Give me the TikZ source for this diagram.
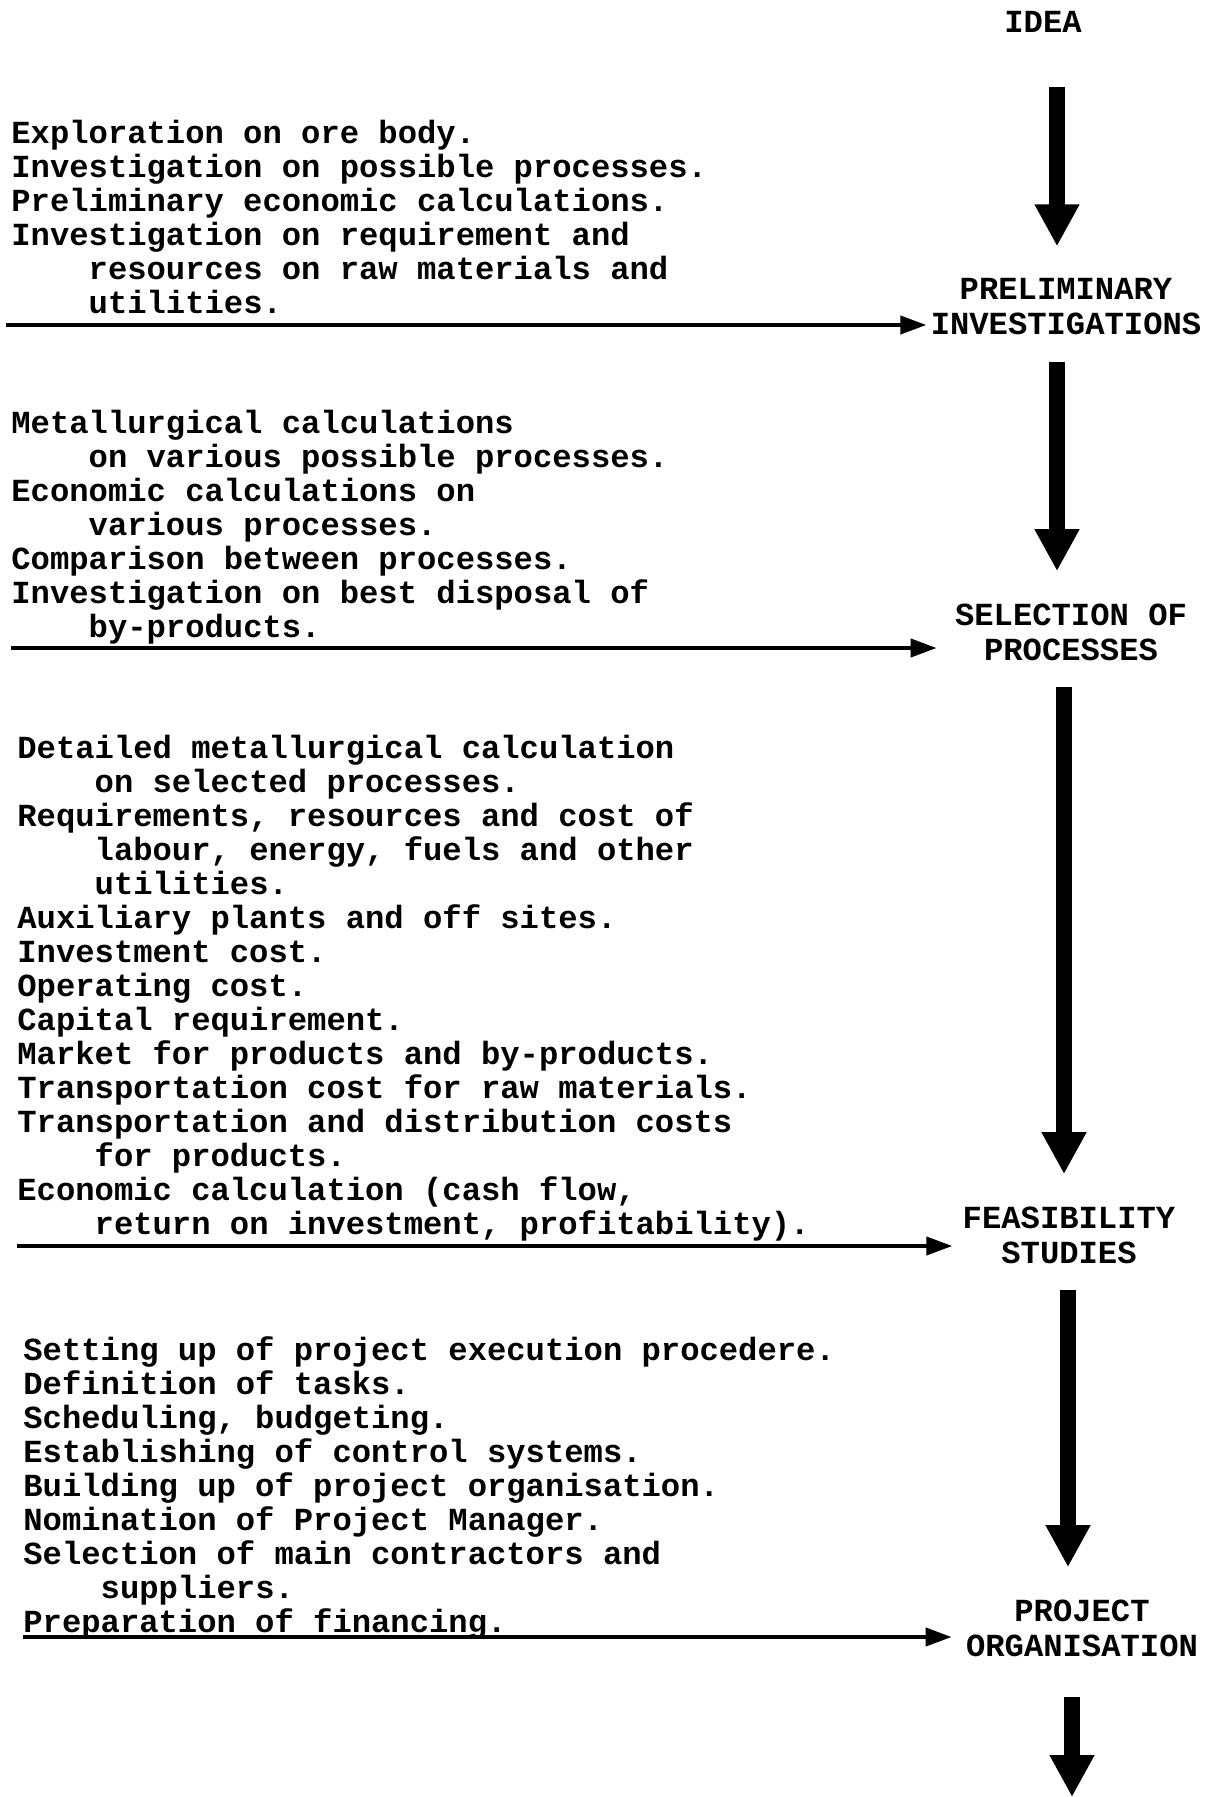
\documentclass[tikz,border=0pt]{standalone}
\usepackage{fontspec}
\usepackage{tikz}
\usetikzlibrary{arrows.meta,positioning}
\newfontfamily\typewriter{Liberation Mono}
\newcommand{\ind}{\phantom{xxxx}}

\begin{document}
\begin{tikzpicture}[x=0.5pt, y=-0.5pt,
  notes/.style={anchor=north west, align=left, inner sep=0pt,
    font=\typewriter\bfseries\fontsize{16.1}{17}\selectfont},
  stage/.style={align=center, inner sep=0pt,
    font=\typewriter\bfseries\fontsize{16.1}{17.5}\selectfont},
  flow/.style={line width=8pt, -{Triangle[width=21pt,length=21pt]},
    shorten <=13pt, shorten >=16pt},
  feed/.style={line width=2pt, -{Triangle[width=9pt,length=13pt]}}]

\useasboundingbox (0,0) rectangle (1215,1797);

% Stages down the right side
\node[stage] (idea) at (1043,22) {IDEA};
\node[stage] (prelim) at (1066,307) {PRELIMINARY\\INVESTIGATIONS};
\node[stage] (select) at (1071,632) {SELECTION OF\\PROCESSES};
\node[stage] (feas) at (1069,1235) {FEASIBILITY\\STUDIES};
\node[stage] (projorg) at (1082,1628) {PROJECT\\ORGANISATION};

% Axes of the vertical arrows
\coordinate (axis1) at (1057,0);
\coordinate (axis2) at (1057,0);
\coordinate (axis3) at (1064,0);
\coordinate (axis4) at (1068,0);
\coordinate (next) at (1072,1797);

% Vertical arrows between stages
\draw[flow, shorten <=27pt] (idea.south -| axis1) -- (prelim.north -| axis1);
\draw[flow] (prelim.south -| axis2) -- (select.north -| axis2);
\draw[flow] (select.south -| axis3) -- (feas.north -| axis3);
\draw[flow] (feas.south -| axis4) -- (projorg.north -| axis4);
\draw[flow, shorten <=20pt, shorten >=0pt] (projorg.south -| next) -- (next);

% Work done in each stage
\node[notes] (work1) at (11,120) {Exploration on ore body.\\
Investigation on possible processes.\\
Preliminary economic calculations.\\
Investigation on requirement and\\
\ind resources on raw materials and\\
\ind utilities.};

\node[notes] (work2) at (11,410) {Metallurgical calculations\\
\ind on various possible processes.\\
Economic calculations on\\
\ind various processes.\\
Comparison between processes.\\
Investigation on best disposal of\\
\ind by-products.};

\node[notes] (work3) at (17,735) {Detailed metallurgical calculation\\
\ind on selected processes.\\
Requirements, resources and cost of\\
\ind labour, energy, fuels and other\\
\ind utilities.\\
Auxiliary plants and off sites.\\
Investment cost.\\
Operating cost.\\
Capital requirement.\\
Market for products and by-products.\\
Transportation cost for raw materials.\\
Transportation and distribution costs\\
\ind for products.\\
Economic calculation (cash flow,\\
\ind return on investment, profitability).};

\node[notes] (work4) at (23,1336) {Setting up of project execution procedere.\\
Definition of tasks.\\
Scheduling, budgeting.\\
Establishing of control systems.\\
Building up of project organisation.\\
Nomination of Project Manager.\\
Selection of main contractors and\\
\ind suppliers.\\
Preparation of financing.};

% Lines feeding each stage
\coordinate (feed1) at (6,325);
\coordinate (feed2) at (11,648);
\coordinate (feed3) at (17,1246);
\coordinate (feed4) at (23,1637);
\draw[feed, shorten >=2pt] (feed1) -- (feed1 -| prelim.west);
\draw[feed, shorten >=9pt] (feed2) -- (feed2 -| select.west);
\draw[feed, shorten >=5pt] (feed3) -- (feed3 -| feas.west);
\draw[feed, shorten >=7pt] (feed4) -- (feed4 -| projorg.west);

\end{tikzpicture}
\end{document}
